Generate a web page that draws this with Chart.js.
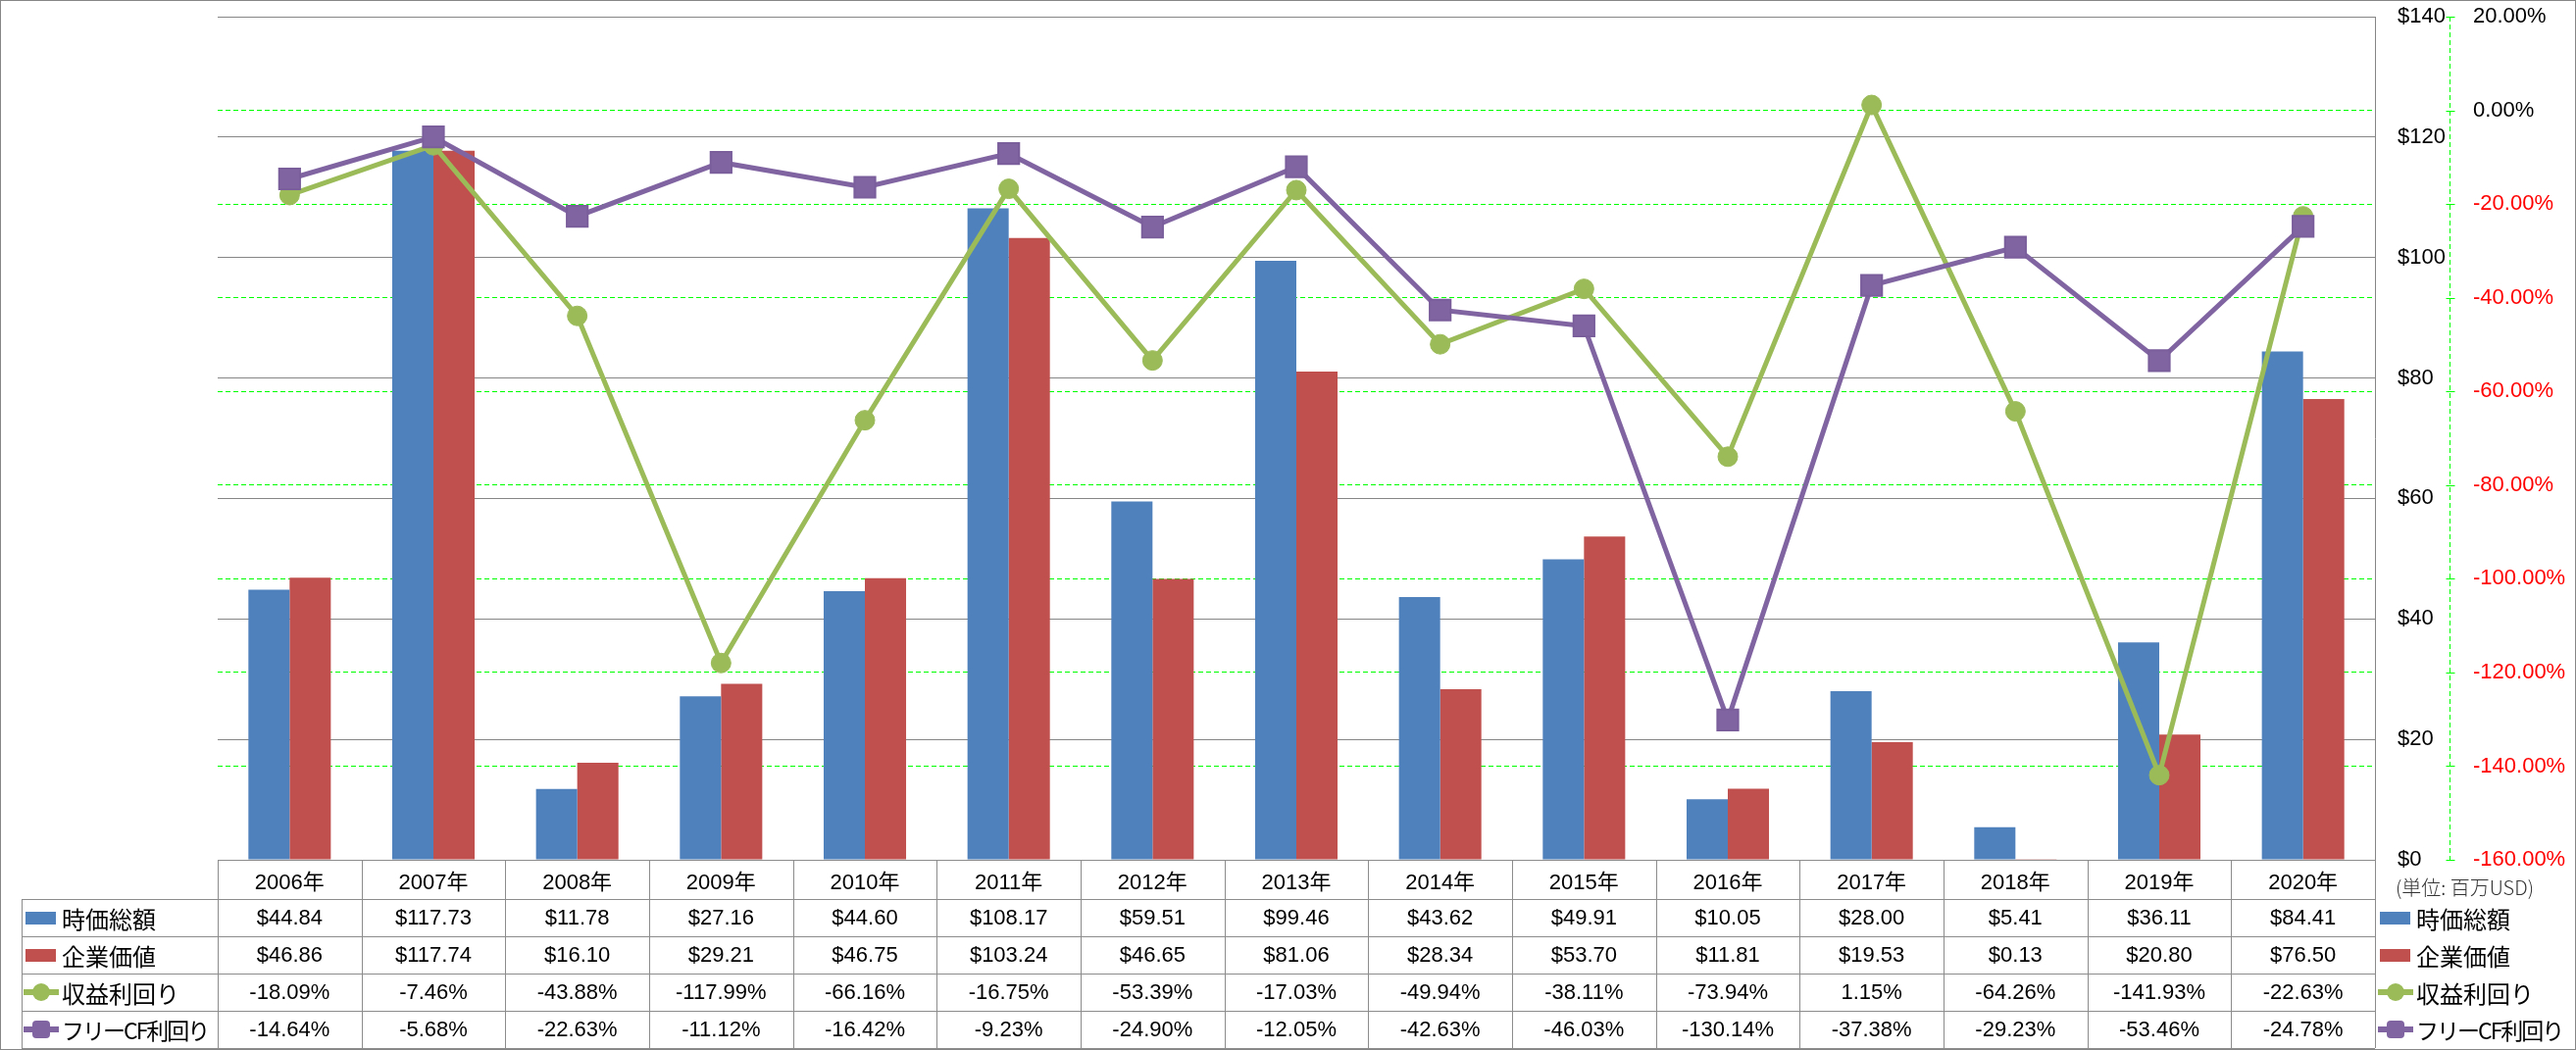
<!DOCTYPE html>
<html>
<head>
<meta charset="utf-8">
<script src="https://cdn.jsdelivr.net/npm/chart.js@4.4.0/dist/chart.umd.min.js"></script>
<style>
    html, body { margin: 0; padding: 0; background: #ffffff; }
    #wrap { position: relative; width: 2627px; height: 1071px; overflow: hidden; }
    #valuationChart { position: absolute; left: 0; top: 0; }
    #frame { position: absolute; left: 0; top: 0; width: 2625px; height: 1069px; border: 1px solid #868686; pointer-events: none; }
    .cell { position: absolute; display: flex; align-items: center; justify-content: center; white-space: nowrap;
            font-family: 'Liberation Sans', 'Noto Sans CJK JP', sans-serif; font-size: 22px; color: #000; }
    .label { justify-content: flex-start; font-family: 'Noto Sans CJK JP', sans-serif; font-size: 24px; }
    .narrow { font-size: 23px; letter-spacing: -2px; }
    .hline, .vline { position: absolute; background: #8c8c8c; }
    .key { position: relative; display: inline-block; width: 36px; height: 20px; margin-right: 3px; flex: none; }
    .unit { position: absolute; font-family: 'Noto Sans CJK JP', sans-serif; font-weight: 300; font-size: 20px; color: #333; white-space: nowrap; }
</style>
</head>
<body>
<div id="wrap">
    <canvas id="valuationChart" width="2627" height="1071"></canvas>
    <div id="tableLayer"></div>
    <div id="frame"></div>
</div>
<script>
const years = ['2006年', '2007年', '2008年', '2009年', '2010年', '2011年', '2012年', '2013年',
               '2014年', '2015年', '2016年', '2017年', '2018年', '2019年', '2020年'];
const marketCap = [44.84, 117.73, 11.78, 27.16, 44.60, 108.17, 59.51, 99.46, 43.62, 49.91, 10.05, 28.00, 5.41, 36.11, 84.41];
const enterpriseValue = [46.86, 117.74, 16.10, 29.21, 46.75, 103.24, 46.65, 81.06, 28.34, 53.70, 11.81, 19.53, 0.13, 20.80, 76.50];
const earningsYield = [-18.09, -7.46, -43.88, -117.99, -66.16, -16.75, -53.39, -17.03, -49.94, -38.11, -73.94, 1.15, -64.26, -141.93, -22.63];
const fcfYield = [-14.64, -5.68, -22.63, -11.12, -16.42, -9.23, -24.90, -12.05, -42.63, -46.03, -130.14, -37.38, -29.23, -53.46, -24.78];

const seriesNames = ['時価総額', '企業価値', '収益利回り', 'フリーCF利回り'];
const usdRange = [0, 140];
const yieldRange = [-160, 20];
const unitLabel = '(単位: 百万USD)';

const BLUE = '#4F81BD';
const RED = '#C0504D';
const GREEN = '#9BBB59';
const PURPLE = '#8064A2';
const GRID_GREEN = '#00FF00';
const CLEAR = 'rgba(0,0,0,0)';

Chart.defaults.font.family = "'Liberation Sans', 'Noto Sans CJK JP', sans-serif";
Chart.defaults.color = '#000000';

// dashed axis line + crossing tick marks for the yield axis
const yieldAxisLine = {
    id: 'yieldAxisLine',
    afterDraw(chart) {
        const s = chart.scales.y2;
        const ctx = chart.ctx;
        const x = Math.round(s.left) + 0.5;
        ctx.save();
        ctx.strokeStyle = GRID_GREEN;
        ctx.lineWidth = 1;
        ctx.setLineDash([5, 3]);
        ctx.beginPath();
        ctx.moveTo(x, s.top);
        ctx.lineTo(x, s.bottom);
        ctx.stroke();
        ctx.setLineDash([]);
        ctx.beginPath();
        s.ticks.forEach(t => {
            const y = Math.round(s.getPixelForValue(t.value)) + 0.5;
            ctx.moveTo(x - 4, y);
            ctx.lineTo(x + 5, y);
        });
        ctx.stroke();
        ctx.restore();
    }
};

const ctx = document.getElementById('valuationChart').getContext('2d');
const chart = new Chart(ctx, {
    data: {
        labels: years,
        datasets: [
            {
                type: 'line',
                label: seriesNames[3],
                data: fcfYield,
                yAxisID: 'y2',
                borderColor: PURPLE,
                borderWidth: 5,
                pointStyle: 'rect',
                pointRadius: 15,
                pointBackgroundColor: PURPLE,
                pointBorderColor: '#7a5e9c',
                pointBorderWidth: 2,
                order: 1
            },
            {
                type: 'line',
                label: seriesNames[2],
                data: earningsYield,
                yAxisID: 'y2',
                borderColor: GREEN,
                borderWidth: 5,
                pointStyle: 'circle',
                pointRadius: 10,
                pointBackgroundColor: GREEN,
                pointBorderColor: GREEN,
                pointBorderWidth: 1,
                order: 2
            },
            {
                type: 'bar',
                label: seriesNames[0],
                data: marketCap,
                yAxisID: 'y',
                backgroundColor: BLUE,
                borderWidth: 0,
                categoryPercentage: 0.573,
                barPercentage: 1,
                order: 3
            },
            {
                type: 'bar',
                label: seriesNames[1],
                data: enterpriseValue,
                yAxisID: 'y',
                backgroundColor: RED,
                borderWidth: 0,
                categoryPercentage: 0.573,
                barPercentage: 1,
                order: 3
            }
        ]
    },
    options: {
        responsive: false,
        animation: false,
        layout: {
            padding: { left: 222, top: 15, right: 0, bottom: 194 }
        },
        plugins: {
            legend: { display: false },
            tooltip: { enabled: false }
        },
        scales: {
            x: {
                type: 'category',
                display: false,
                offset: true
            },
            y: {
                position: 'right',
                min: usdRange[0],
                max: usdRange[1],
                afterFit: s => { s.width = 76; },
                ticks: {
                    stepSize: 20,
                    padding: 0,
                    font: { size: 22 },
                    color: '#000000',
                    callback: v => '$' + v
                },
                grid: {
                    color: '#868686',
                    lineWidth: 1,
                    drawTicks: true,
                    tickLength: 23,
                    tickColor: CLEAR
                },
                border: { display: true, color: '#868686' }
            },
            y2: {
                position: 'right',
                min: yieldRange[0],
                max: yieldRange[1],
                afterFit: s => { s.width = 129; },
                ticks: {
                    stepSize: 20,
                    padding: 0,
                    font: { size: 22 },
                    color: c => c.tick.value < 0 ? '#FF0000' : '#000000',
                    callback: v => v.toFixed(2) + '%'
                },
                grid: {
                    color: c => (c.tick && (c.tick.value === yieldRange[0] || c.tick.value === yieldRange[1])) ? CLEAR : GRID_GREEN,
                    lineWidth: 1,
                    drawTicks: true,
                    tickLength: 24,
                    tickColor: CLEAR
                },
                border: { display: false, dash: [5, 3] }
            }
        }
    },
    plugins: [yieldAxisLine]
});

// data table below the plot + legend on the right
function keyHtml(i) {
    if (i < 2) {
        const color = i === 0 ? BLUE : RED;
        return `<span class="key"><span style="position:absolute;left:2px;top:4px;width:31px;height:13px;background:${color}"></span></span>`;
    }
    const color = i === 2 ? GREEN : PURPLE;
    const radius = i === 2 ? 9 : 4;
    const marker = `<span style="position:absolute;left:9px;top:1px;width:18px;height:18px;border-radius:${radius}px;background:${color}"></span>`;
    return `<span class="key"><span style="position:absolute;left:0;top:7px;width:36px;height:6px;background:${color}"></span>${marker}</span>`;
}

function labelHtml(i) {
    const cls = i === 3 ? 'narrow' : '';
    return `${keyHtml(i)}<span class="${cls}">${seriesNames[i]}</span>`;
}

function buildTable(chart) {
    const area = chart.chartArea;
    const layer = document.getElementById('tableLayer');
    const colW = area.width / years.length;
    const tableLeft = 22;
    const headTop = Math.round(area.bottom);
    const headH = 40;
    const rowH = 38;
    const bottom = headTop + headH + rowH * 4;
    const rows = [
        marketCap.map(v => '$' + v.toFixed(2)),
        enterpriseValue.map(v => '$' + v.toFixed(2)),
        earningsYield.map(v => v.toFixed(2) + '%'),
        fcfYield.map(v => v.toFixed(2) + '%')
    ];
    let html = '';

    // lines
    html += `<div class="hline" style="left:${area.left}px;top:${headTop}px;width:${area.width}px;height:1px"></div>`;
    for (let r = 0; r <= 4; r++) {
        const y = headTop + headH + r * rowH;
        html += `<div class="hline" style="left:${tableLeft}px;top:${y}px;width:${area.right - tableLeft}px;height:1px"></div>`;
    }
    html += `<div class="vline" style="left:${tableLeft}px;top:${headTop + headH}px;width:1px;height:${bottom - headTop - headH}px"></div>`;
    for (let c = 0; c <= years.length; c++) {
        const x = Math.round(area.left + c * colW);
        html += `<div class="vline" style="left:${x}px;top:${headTop}px;width:1px;height:${bottom - headTop}px"></div>`;
    }

    // header row
    years.forEach((y, c) => {
        html += `<div class="cell" style="left:${area.left + c * colW}px;top:${headTop}px;width:${colW}px;height:${headH}px">${y}</div>`;
    });

    // body rows
    rows.forEach((vals, r) => {
        const top = headTop + headH + r * rowH;
        html += `<div class="cell label" style="left:${tableLeft + 2}px;top:${top}px;width:${area.left - tableLeft - 2}px;height:${rowH}px">${labelHtml(r)}</div>`;
        vals.forEach((v, c) => {
            html += `<div class="cell" style="left:${area.left + c * colW}px;top:${top}px;width:${colW}px;height:${rowH}px">${v}</div>`;
        });
        // right-hand legend
        html += `<div class="cell label" style="left:${area.right + 3}px;top:${top}px;width:202px;height:${rowH}px">${labelHtml(r)}</div>`;
    });

    html += `<div class="unit" style="left:${area.right + 21}px;top:${headTop + 13}px">${unitLabel}</div>`;
    layer.innerHTML = html;
}

buildTable(chart);
</script>
</body>
</html>
